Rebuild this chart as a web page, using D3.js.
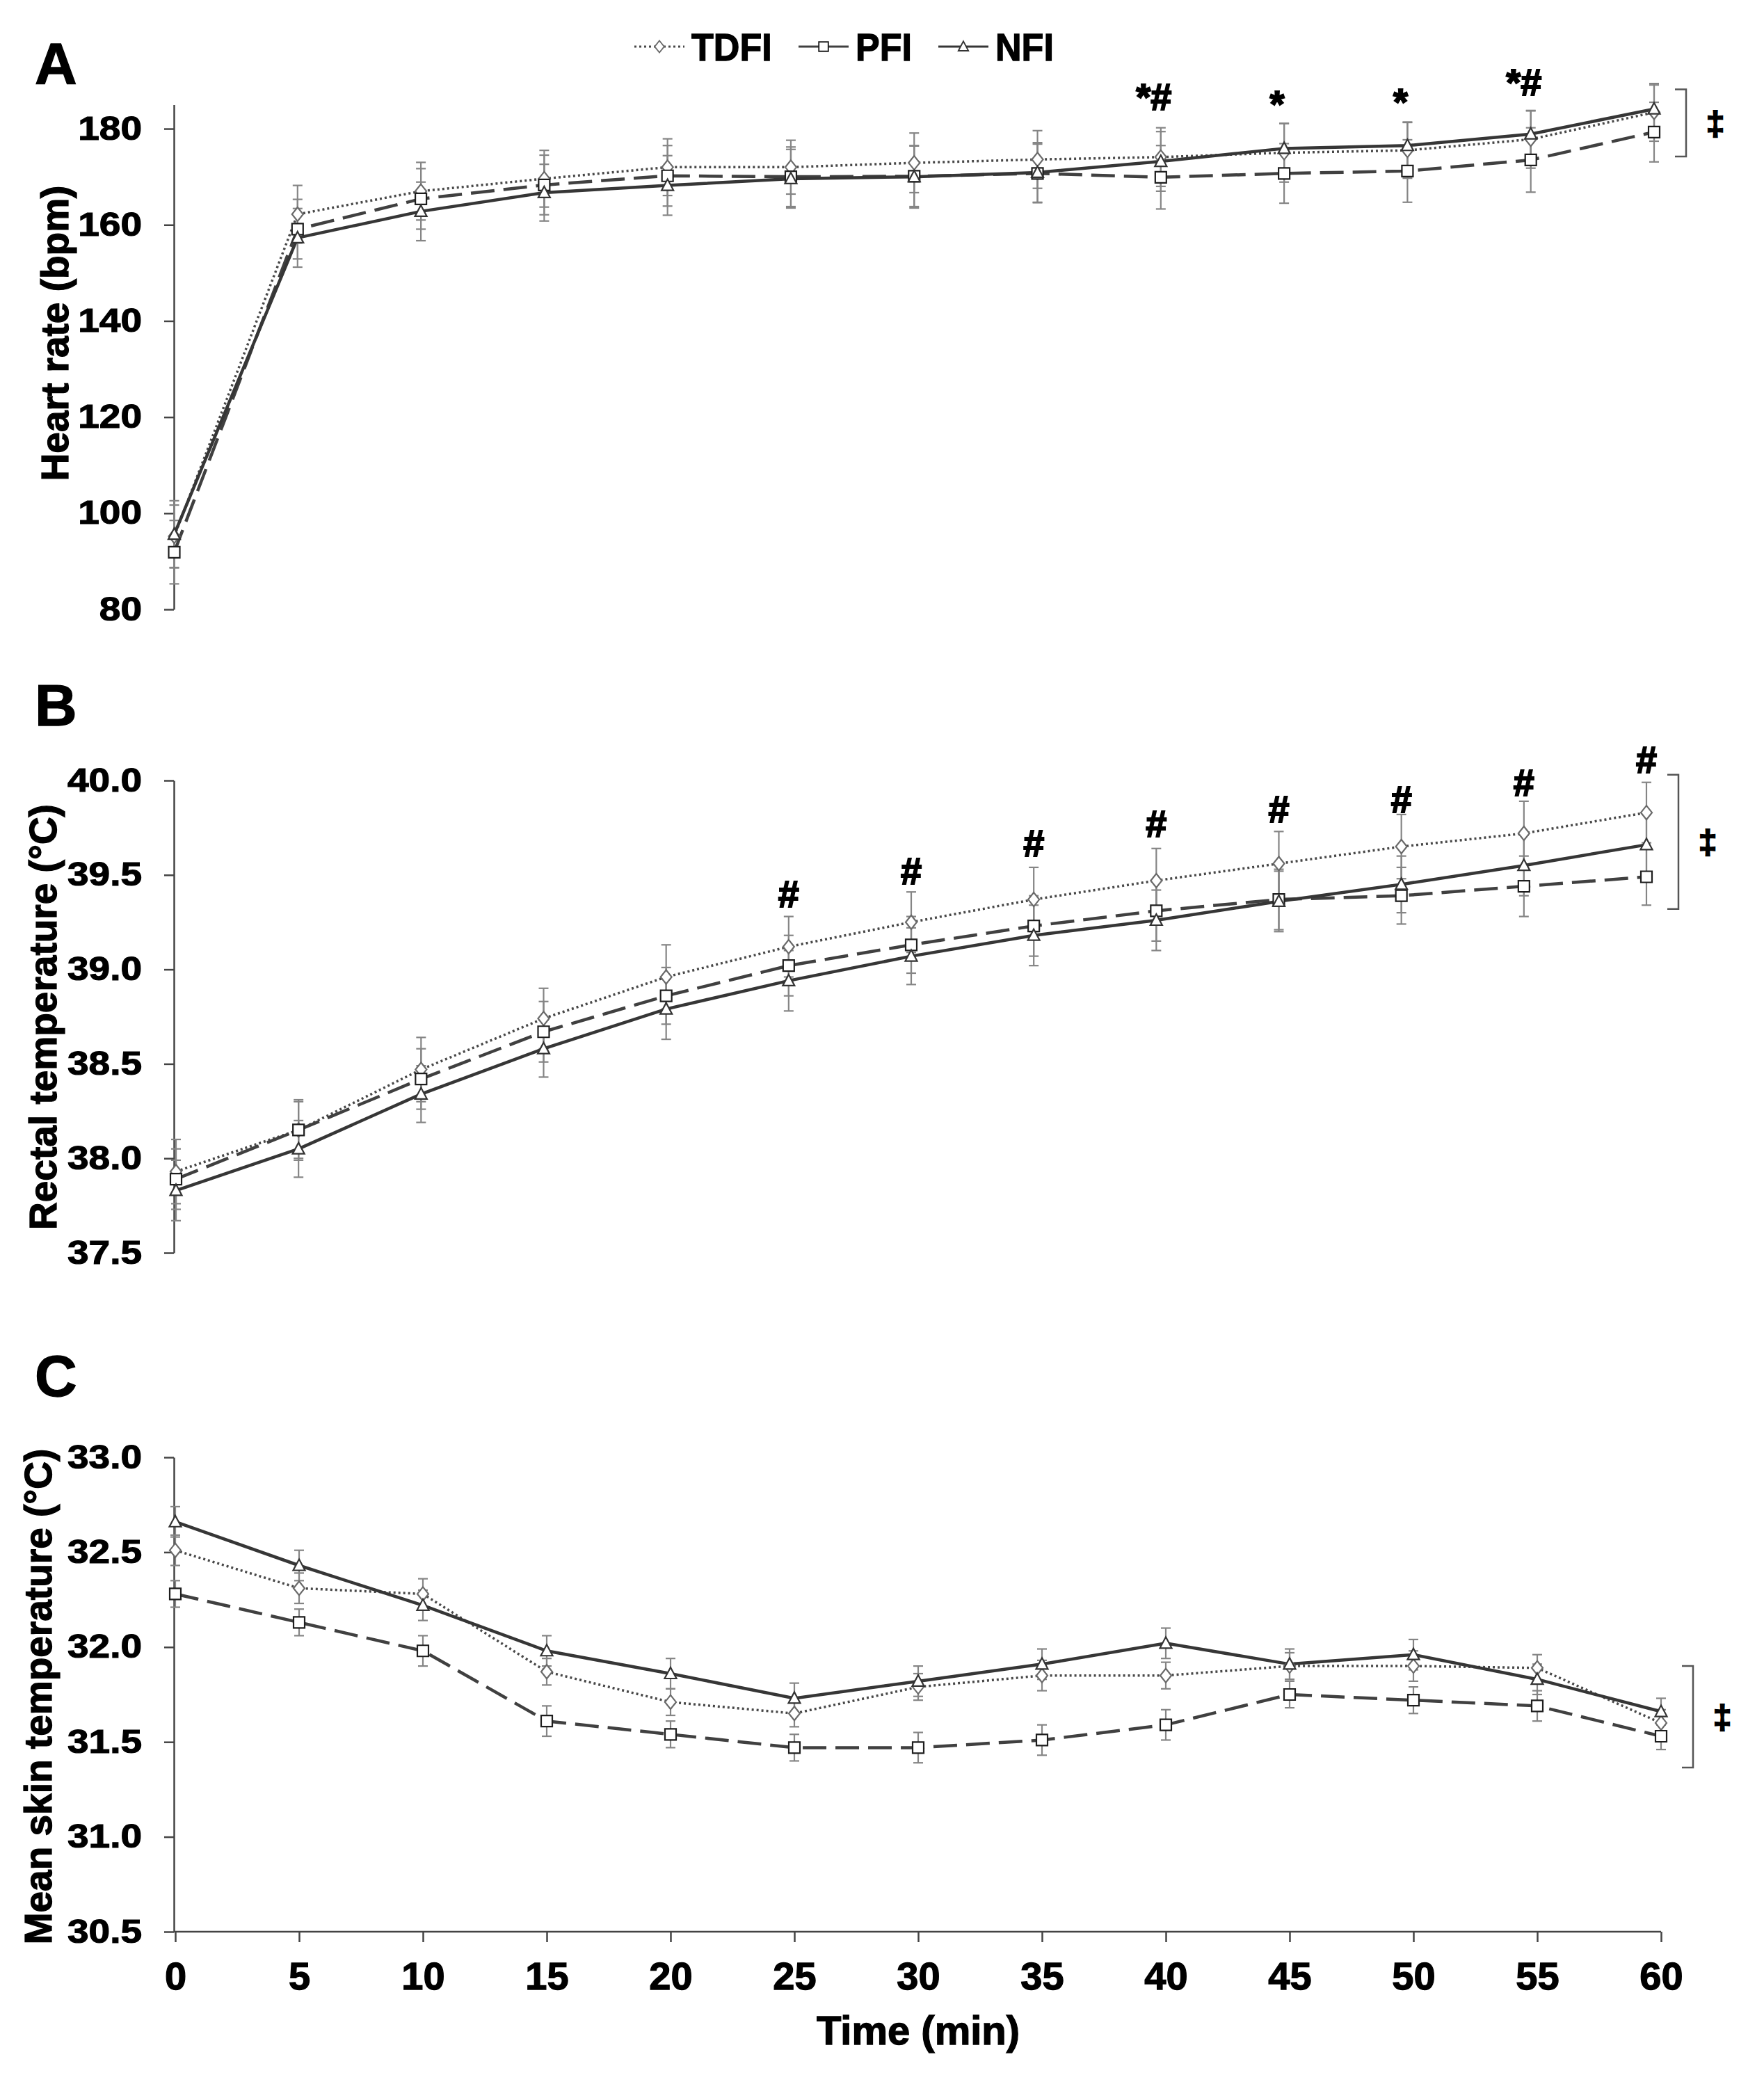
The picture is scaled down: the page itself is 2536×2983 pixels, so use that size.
<!DOCTYPE html>
<html>
<head>
<meta charset="utf-8">
<script src="https://cdn.jsdelivr.net/npm/d3@7"></script>
<style>
  body { margin: 0; background: #fff; }
  text { font-family: "Liberation Sans", Arial, sans-serif; font-weight: bold; fill: #000; stroke: #000; stroke-width: 1.3px; }
</style>
</head>
<body>
<div id="chart"></div>
<script>
// time points (min)
const times = [0, 5, 10, 15, 20, 25, 30, 35, 40, 45, 50, 55, 60];
const xTicks = times;

// A: heart rate (bpm)
const hrTDFI = [95.2, 162.2, 167.0, 169.6, 172.0, 172.0, 172.9, 173.6, 174.1, 175.0, 175.5, 177.8, 183.4];
const hrPFI  = [91.9, 159.1, 165.4, 168.3, 170.2, 170.0, 170.1, 170.7, 169.9, 170.7, 171.2, 173.5, 179.3];
const hrNFI  = [95.6, 157.3, 162.8, 166.7, 168.2, 169.6, 170.0, 170.9, 173.2, 175.9, 176.5, 178.9, 184.1];
const hrSdTDFI = [6.5, 6.0, 6.0, 5.9, 5.9, 5.6, 6.2, 6.0, 6.1, 6.1, 5.8, 6.0, 6.0];
const hrSdPFI  = [6.6, 6.2, 6.3, 6.2, 6.3, 6.2, 6.3, 6.1, 6.6, 6.2, 6.5, 6.7, 6.2];
const hrSdNFI  = [7.0, 6.1, 6.1, 5.9, 6.2, 6.1, 6.5, 6.2, 6.2, 5.2, 4.9, 4.8, 5.0];
const hrTicks = [80, 100, 120, 140, 160, 180];

// B: rectal temperature (°C)
const reTDFI = [37.93, 38.15, 38.47, 38.74, 38.96, 39.12, 39.25, 39.37, 39.47, 39.56, 39.65, 39.72, 39.83];
const rePFI  = [37.89, 38.15, 38.42, 38.67, 38.86, 39.02, 39.13, 39.23, 39.31, 39.37, 39.39, 39.44, 39.49];
const reNFI  = [37.83, 38.05, 38.34, 38.58, 38.79, 38.94, 39.07, 39.18, 39.26, 39.36, 39.45, 39.55, 39.66];
const reSdTDFI = [0.17, 0.16, 0.17, 0.16, 0.17, 0.16, 0.16, 0.17, 0.17, 0.17, 0.17, 0.17, 0.16];
const reSdPFI  = [0.16, 0.15, 0.16, 0.16, 0.15, 0.16, 0.15, 0.16, 0.16, 0.16, 0.15, 0.16, 0.15];
const reSdNFI  = [0.16, 0.15, 0.15, 0.15, 0.16, 0.16, 0.15, 0.16, 0.16, 0.16, 0.15, 0.16, 0.16];
const reTicks = [37.5, 38.0, 38.5, 39.0, 39.5, 40.0];

// C: mean skin temperature (°C)
const skTDFI = [32.51, 32.31, 32.28, 31.87, 31.71, 31.65, 31.79, 31.85, 31.85, 31.90, 31.90, 31.89, 31.60];
const skPFI  = [32.28, 32.13, 31.98, 31.61, 31.54, 31.47, 31.47, 31.51, 31.59, 31.75, 31.72, 31.69, 31.53];
const skNFI  = [32.66, 32.43, 32.22, 31.98, 31.86, 31.73, 31.82, 31.91, 32.02, 31.91, 31.96, 31.83, 31.66];
const skSdTDFI = [0.08, 0.08, 0.08, 0.07, 0.07, 0.07, 0.07, 0.08, 0.07, 0.07, 0.08, 0.07, 0.07];
const skSdPFI  = [0.07, 0.07, 0.08, 0.08, 0.07, 0.07, 0.08, 0.08, 0.08, 0.07, 0.07, 0.08, 0.07];
const skSdNFI  = [0.08, 0.08, 0.08, 0.08, 0.08, 0.08, 0.08, 0.08, 0.08, 0.08, 0.08, 0.08, 0.07];
const skTicks = [30.5, 31.0, 31.5, 32.0, 32.5, 33.0];

// significance marks: time, text, baseline value
const sigA = [
  { t: 40, text: "*#", v: 183.9 },
  { t: 45, text: "*", v: 182.4 },
  { t: 50, text: "*", v: 182.9 },
  { t: 55, text: "*#", v: 187.0 }
];
const sigB = [
  { t: 25, text: "#", v: 39.33 },
  { t: 30, text: "#", v: 39.45 },
  { t: 35, text: "#", v: 39.60 },
  { t: 40, text: "#", v: 39.70 },
  { t: 45, text: "#", v: 39.78 },
  { t: 50, text: "#", v: 39.83 },
  { t: 55, text: "#", v: 39.92 },
  { t: 60, text: "#", v: 40.04 }
];
const bracketA = [174.2, 188.2];
const bracketB = [39.32, 40.03];
const bracketC = [31.365, 31.90];

const seriesNames = ["TDFI", "PFI", "NFI"];

const W = 2536, H = 2983;
const svg = d3.select("#chart").append("svg")
  .attr("width", W)
  .attr("height", H);

// line / marker looks per group
const styles = {
  TDFI: { stroke: "#484848", width: 3.5, dash: "3,4", marker: "diamond", mstroke: "#6a6a6a" },
  PFI:  { stroke: "#404040", width: 4.5, dash: "34,13", marker: "square", mstroke: "#1e1e1e" },
  NFI:  { stroke: "#363636", width: 4.5, dash: null, marker: "triangle", mstroke: "#333" }
};

function markerPath(kind) {
  if (kind === "diamond") return "M0,-10 L8,0 L0,10 L-8,0 Z";
  if (kind === "square") return "M-8,-8 L8,-8 L8,8 L-8,8 Z";
  return "M0,-9 L8.5,7 L-8.5,7 Z";
}

const panels = [
  {
    label: "A", labelY: 121, title: "Heart rate (bpm)", titleX: 79, titleY: 479, fmt: d3.format("d"),
    domain: [80, 185], yRange: [876, 150.5], xRange: [250.5, 2378], ticks: hrTicks,
    series: [hrTDFI, hrPFI, hrNFI], sds: [hrSdTDFI, hrSdPFI, hrSdNFI],
    sig: sigA, sigDx: -10, bracket: bracketA, xAxis: false
  },
  {
    label: "B", labelY: 1043, title: "Rectal temperature (°C)", titleX: 62, titleY: 1462, fmt: d3.format(".1f"),
    domain: [37.5, 40], yRange: [1801, 1122], xRange: [253, 2367], ticks: reTicks,
    series: [reTDFI, rePFI, reNFI], sds: [reSdTDFI, reSdPFI, reSdNFI],
    sig: sigB, sigDx: 0, bracket: bracketB, xAxis: false
  },
  {
    label: "C", labelY: 2007, title: "Mean skin temperature (°C)", titleX: 55, titleY: 2439, fmt: d3.format(".1f"),
    domain: [30.5, 33], yRange: [2777, 2095], xRange: [252, 2388], ticks: skTicks,
    series: [skTDFI, skPFI, skNFI], sds: [skSdTDFI, skSdPFI, skSdNFI],
    sig: [], sigDx: 0, bracket: bracketC, xAxis: true
  }
];

panels.forEach(drawPanel);
drawLegend();

function styleTicks(sel, size) {
  sel.attr("fill", "#000")
    .attr("stroke", "#000")
    .attr("stroke-width", 1.3)
    .style("font-size", size)
    .style("font-family", "'Liberation Sans', Arial, sans-serif")
    .style("font-weight", "bold");
}

function drawPanel(p) {
  const x = d3.scaleLinear().domain([0, 60]).range(p.xRange);
  const y = d3.scaleLinear().domain(p.domain).range(p.yRange);
  const g = svg.append("g");

  // panel letter
  g.append("text")
    .attr("x", 50).attr("y", p.labelY)
    .style("font-size", "84px")
    .text(p.label);

  // y axis
  const yAxis = g.append("g")
    .attr("transform", "translate(250,0)")
    .call(d3.axisLeft(y).tickValues(p.ticks).tickFormat(p.fmt).tickSize(14).tickPadding(32).tickSizeOuter(0));
  yAxis.select(".domain").attr("stroke", "#444").attr("stroke-width", 2.5);
  yAxis.selectAll(".tick line").attr("stroke", "#444").attr("stroke-width", 2.5);
  yAxis.selectAll(".tick text").call(styleTicks, "55px")
    .attr("transform", "scale(1,0.86)");

  // y title
  g.append("text")
    .attr("transform", `translate(${p.titleX},${p.titleY}) rotate(-90)`)
    .attr("text-anchor", "middle")
    .attr("dy", "0.35em")
    .style("font-size", "55px")
    .text(p.title);

  // x axis (only panel C)
  if (p.xAxis) {
    const xAxis = g.append("g")
      .attr("transform", `translate(0,${p.yRange[0]})`)
      .call(d3.axisBottom(x).tickValues(xTicks).tickSize(15).tickPadding(28).tickSizeOuter(0));
    xAxis.select(".domain").attr("stroke", "#444").attr("stroke-width", 2.5)
      .attr("d", `M250,0H${x(60)}`);
    xAxis.selectAll(".tick line").attr("stroke", "#444").attr("stroke-width", 2.5);
    xAxis.selectAll(".tick text").call(styleTicks, "56px");
    g.append("text")
      .attr("x", (x(0) + x(60)) / 2)
      .attr("y", 2939)
      .attr("text-anchor", "middle")
      .style("font-size", "58px")
      .text("Time (min)");
  }

  // error bars
  p.series.forEach((vals, si) => {
    const sd = p.sds[si];
    const eb = g.append("g").attr("stroke", "#858585").attr("stroke-width", 2.2);
    vals.forEach((v, i) => {
      const cx = x(times[i]);
      const top = y(v + sd[i]), bot = y(v - sd[i]);
      eb.append("line").attr("x1", cx).attr("x2", cx).attr("y1", top).attr("y2", bot);
      eb.append("line").attr("x1", cx - 7).attr("x2", cx + 7).attr("y1", top).attr("y2", top);
      eb.append("line").attr("x1", cx - 7).attr("x2", cx + 7).attr("y1", bot).attr("y2", bot);
    });
  });

  // lines
  const line = d3.line().x((d, i) => x(times[i])).y(d => y(d));
  p.series.forEach((vals, si) => {
    const st = styles[seriesNames[si]];
    g.append("path")
      .datum(vals)
      .attr("fill", "none")
      .attr("stroke", st.stroke)
      .attr("stroke-width", st.width)
      .attr("stroke-dasharray", st.dash)
      .attr("d", line);
  });

  // markers
  p.series.forEach((vals, si) => {
    const st = styles[seriesNames[si]];
    g.selectAll(null)
      .data(vals)
      .join("path")
      .attr("transform", (d, i) => `translate(${x(times[i])},${y(d)})`)
      .attr("d", markerPath(st.marker))
      .attr("fill", "#fff")
      .attr("stroke", st.mstroke)
      .attr("stroke-width", 2.2);
  });

  // significance marks
  g.selectAll(null)
    .data(p.sig)
    .join("text")
    .attr("x", d => x(d.t) + p.sigDx)
    .attr("y", d => y(d.v))
    .attr("text-anchor", "middle")
    .style("font-size", "54px")
    .style("stroke-width", "2px")
    .text(d => d.text);

  // bracket with double dagger
  const bx = x(60) + 46;
  const b0 = y(p.bracket[0]), b1 = y(p.bracket[1]);
  g.append("path")
    .attr("fill", "none")
    .attr("stroke", "#555")
    .attr("stroke-width", 2.5)
    .attr("d", `M${bx - 16},${b1}H${bx}V${b0}H${bx - 16}`);
  g.append("text")
    .attr("x", bx + 42)
    .attr("y", (b0 + b1) / 2)
    .attr("dy", "0.35em")
    .attr("text-anchor", "middle")
    .style("font-size", "48px")
    .style("stroke-width", "2px")
    .text("‡");
}

function drawLegend() {
  const cy = 67;
  const items = [
    { name: "TDFI", x0: 912 },
    { name: "PFI", x0: 1148 },
    { name: "NFI", x0: 1349 }
  ];
  const lg = svg.append("g");
  items.forEach(it => {
    const st = styles[it.name];
    const len = 72;
    lg.append("line")
      .attr("x1", it.x0).attr("x2", it.x0 + len)
      .attr("y1", cy).attr("y2", cy)
      .attr("stroke", st.stroke)
      .attr("stroke-width", 3)
      .attr("stroke-dasharray", it.name === "TDFI" ? "3,4" : null);
    lg.append("path")
      .attr("transform", `translate(${it.x0 + len / 2},${cy}) scale(0.85)`)
      .attr("d", markerPath(st.marker))
      .attr("fill", "#fff")
      .attr("stroke", st.mstroke)
      .attr("stroke-width", 2.2);
    lg.append("text")
      .attr("transform", `translate(${it.x0 + len + 10},${cy}) scale(0.93,1)`)
      .attr("dy", "0.36em")
      .style("font-size", "56px")
      .text(it.name);
  });
}
</script>
</body>
</html>
